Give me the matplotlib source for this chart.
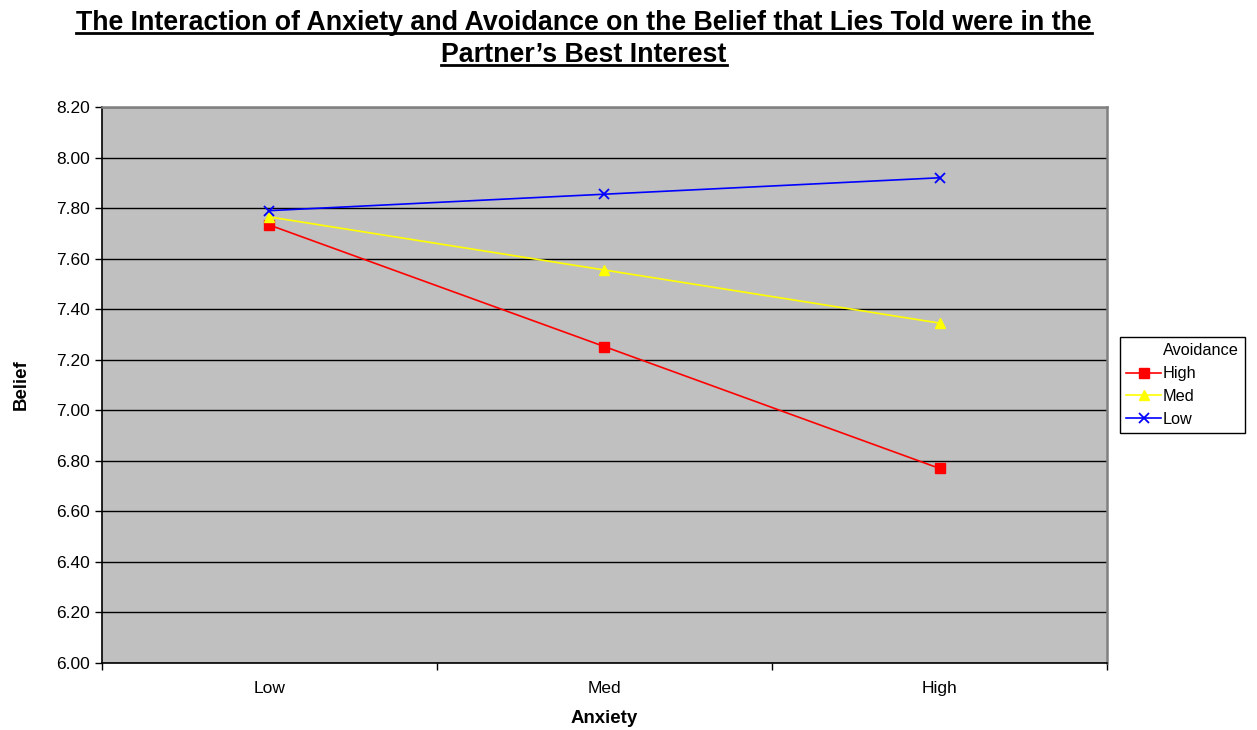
import matplotlib
matplotlib.use('Agg')
import matplotlib.pyplot as plt
from matplotlib.lines import Line2D

plt.rcParams['font.family'] = ['Liberation Sans', 'DejaVu Sans']

anxiety = ['Low', 'Med', 'High']
avoid_high = [7.733, 7.252, 6.770]
avoid_med = [7.765, 7.555, 7.345]
avoid_low = [7.790, 7.855, 7.920]
yticks = [6.00, 6.20, 6.40, 6.60, 6.80, 7.00, 7.20, 7.40, 7.60, 7.80, 8.00, 8.20]

fig = plt.figure(figsize=(12.57, 7.30), dpi=100)
ax = fig.add_axes([0.0811, 0.0918, 0.7996, 0.7616])
ax.set_facecolor('#C0C0C0')

x = range(len(anxiety))
l1, = ax.plot(x, avoid_high, color='#FF0000', lw=1.2, marker='s', ms=6.5, label='High', zorder=3)
l2, = ax.plot(x, avoid_med, color='#FFFF00', lw=1.2, marker='^', ms=7, label='Med', zorder=3)
l3, = ax.plot(x, avoid_low, color='#0000FF', lw=1.2, marker='x', ms=7, mew=1.3, label='Low', zorder=3)

ax.set_xlim(-0.5, 2.5)
ax.set_ylim(6.0, 8.2)
ax.set_yticks(yticks)
ax.set_yticklabels(['%.2f' % v for v in yticks])
ax.yaxis.grid(True, color='black', lw=1)
ax.set_axisbelow(True)
ax.set_xticks([-0.5, 0.5, 1.5, 2.5])
ax.set_xticklabels([])
ax.set_xticks(list(x), minor=True)
ax.set_xticklabels(anxiety, minor=True)
ax.tick_params(axis='x', which='minor', length=0, pad=13)
ax.tick_params(axis='both', which='major', direction='out', length=5, width=1, labelsize=12.5)
ax.tick_params(axis='x', which='minor', labelsize=12.5)

for s in ['left', 'bottom']:
    ax.spines[s].set_color('black')
    ax.spines[s].set_linewidth(1.2)
for s in ['top', 'right']:
    ax.spines[s].set_color('#808080')
    ax.spines[s].set_linewidth(1.8)

ax.set_xlabel('Anxiety', fontsize=13.4, fontweight='bold', labelpad=10)
ax.set_ylabel('Belief', fontsize=13.4, fontweight='bold', labelpad=19)

title_lines = ['The Interaction of Anxiety and Avoidance on the Belief that Lies Told were in the',
               'Partner\u2019s Best Interest']
tx = []
for i, t in enumerate(title_lines):
    tx.append(fig.text(0.4646, 0.9590 - i * 0.0438, t, ha='center', va='baseline',
                       fontsize=19.3, fontweight='bold'))

title_proxy = Line2D([], [], color='none')
leg = fig.legend([title_proxy, l1, l2, l3], ['Avoidance', 'High', 'Med', 'Low'],
                 loc='upper left', bbox_to_anchor=(0.891, 0.5385), fontsize=11.7,
                 frameon=True, fancybox=False, edgecolor='black', framealpha=1,
                 handlelength=2.1, handletextpad=0.15, borderpad=0.4,
                 labelspacing=0.48, borderaxespad=0)
leg.get_frame().set_linewidth(1)

# underline the title
fig.canvas.draw()
r = fig.canvas.get_renderer()
for t in tx:
    bb = t.get_window_extent(r)
    y0 = t.get_position()[1] - 3.5 / 730
    fig.add_artist(Line2D([bb.x0 / 1257, bb.x1 / 1257], [y0, y0], color='black', lw=2,
                          transform=fig.transFigure))

fig.savefig('out.png', dpi=100)
